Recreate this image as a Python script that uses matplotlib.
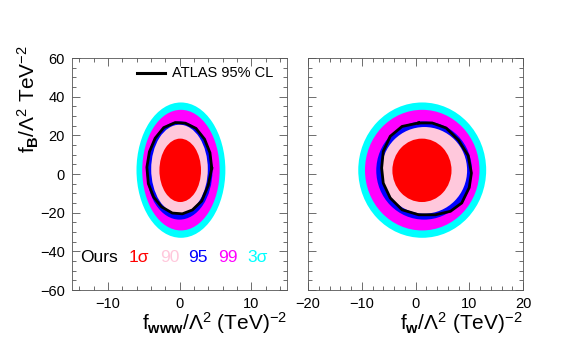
import matplotlib.pyplot as plt
from matplotlib.patches import Ellipse
from matplotlib.ticker import MultipleLocator

plt.rcParams['font.family'] = ['Liberation Sans', 'DejaVu Sans']
plt.rcParams['mathtext.fontset'] = 'custom'
plt.rcParams['mathtext.rm'] = 'Liberation Sans'
plt.rcParams['mathtext.it'] = 'Liberation Sans'
plt.rcParams['mathtext.bf'] = 'Liberation Sans:bold'

# Confidence regions (outermost first): 3 sigma, 99, 95, 90, 1 sigma
levels = ['3σ', '99', '95', '90', '1σ']
colors = ['#00ffff', '#ff00ff', '#0000ff', '#ffc8dc', '#ff0000']

# left panel: f_WWW vs f_B  (center x, center y, half width, half height)
www_cx = [0.2, 0.2, 0.0, 0.0, 0.1]
www_cy = [2.0, 2.0, 1.8, 2.5, 1.9]
www_hw = [6.2, 5.4, 4.6, 3.95, 2.9]
www_hh = [35.0, 31.2, 25.4, 23.0, 16.4]

# right panel: f_W vs f_B
w_cx = [1.25, 1.25, 1.6, 1.65, 1.2]
w_cy = [2.0, 2.0, 1.8, 1.9, 1.9]
w_hw = [11.9, 10.65, 8.9, 7.95, 5.5]
w_hh = [35.0, 31.2, 25.4, 22.4, 16.4]

# ATLAS 95% CL contours
atlas_www_x = [4.5, 4.25, 3.5, 2.3, 0.8, -0.6, -2.2, -3.4, -4.2, -4.55, -4.35, -3.6,
               -2.5, -1.0, 0.4, 1.8, 3.1, 4.0, 4.5]
atlas_www_y = [3.0, 11.0, 18.0, 23.6, 26.3, 26.6, 24.0, 18.5, 11.5, 3.5, -5.0, -12.0,
               -17.0, -20.2, -20.6, -18.6, -14.0, -6.0, 3.0]
atlas_w_x = [0.6, -2.5, -4.7, -6.0, -6.3, -6.0, -4.7, -2.5, 0.6, 3.7, 6.5, 8.6,
             10.0, 10.4, 9.8, 8.0, 5.7, 3.1, 0.6]
atlas_w_y = [26.4, 24.6, 19.5, 11.7, 3.1, -4.7, -12.4, -18.5, -21.1, -21.1, -19.3, -15.0,
             -7.0, 0.5, 9.5, 17.5, 23.8, 26.4, 26.4]

fig = plt.figure(figsize=(5.81, 3.49), dpi=100)
ax1 = fig.add_axes([72 / 581, 1 - 290 / 349, 215 / 581, 232 / 349])
ax2 = fig.add_axes([308 / 581, 1 - 290 / 349, 215 / 581, 232 / 349])


def draw_panel(ax, cx, cy, hw, hh, ax_x, ax_y, xlim):
    for i in range(len(levels)):
        ax.add_patch(Ellipse((cx[i], cy[i]), 2 * hw[i], 2 * hh[i],
                             facecolor=colors[i], edgecolor='none'))
    ax.plot(ax_x, ax_y, color='black', lw=2.0, solid_joinstyle='round')
    ax.set_xlim(xlim)
    ax.set_ylim(-60, 60)
    ax.xaxis.set_major_locator(MultipleLocator(10))
    ax.xaxis.set_minor_locator(MultipleLocator(2))
    ax.yaxis.set_major_locator(MultipleLocator(20))
    ax.yaxis.set_minor_locator(MultipleLocator(5))
    ax.tick_params(which='both', direction='in', top=True, right=True,
                   labelsize=10.5, width=0.6, color='#555555', pad=5)
    ax.tick_params(which='major', length=6)
    ax.tick_params(which='minor', length=3)
    for s in ax.spines.values():
        s.set_linewidth(0.6)
        s.set_color('#555555')


draw_panel(ax1, www_cx, www_cy, www_hw, www_hh, atlas_www_x, atlas_www_y, (-15, 15))
draw_panel(ax2, w_cx, w_cy, w_hw, w_hh, atlas_w_x, atlas_w_y, (-20, 20))
ax2.set_yticklabels([])

# ATLAS legend
ax1.plot([0.302, 0.433], [0.935, 0.935], color='black', lw=2.2, transform=ax1.transAxes)
ax1.text(0.465, 0.937, 'ATLAS 95% CL', transform=ax1.transAxes, fontsize=10.5, va='center')

# Ours legend
leg_x = [80, 129, 160, 188, 218, 247]
leg_txt = ['Ours', '1σ', '90', '95', '99', '3σ']
leg_col = ['black', '#ff0000', '#ffc8dc', '#0000ff', '#ff00ff', '#00ffff']
for px, t, c in zip(leg_x, leg_txt, leg_col):
    ax1.text((px - 72) / 215, 0.138, t, transform=ax1.transAxes, color=c,
             fontsize=12.5, va='center')

fig.text(287 / 581, 1 - 323 / 349, r'$f_{\mathbf{www}}/\Lambda^2\ (\mathrm{TeV})^{-2}$',
         ha='right', va='center', fontsize=15)
fig.text(522 / 581, 1 - 323 / 349, r'$f_{\mathbf{w}}/\Lambda^2\ (\mathrm{TeV})^{-2}$',
         ha='right', va='center', fontsize=15)
fig.text(28 / 581, 1 - 45 / 349, r'$f_{\mathbf{B}}/\Lambda^2\ \mathrm{TeV}^{-2}$',
         ha='center', va='top', rotation=90, fontsize=15)

fig.savefig('out.png', dpi=100)
